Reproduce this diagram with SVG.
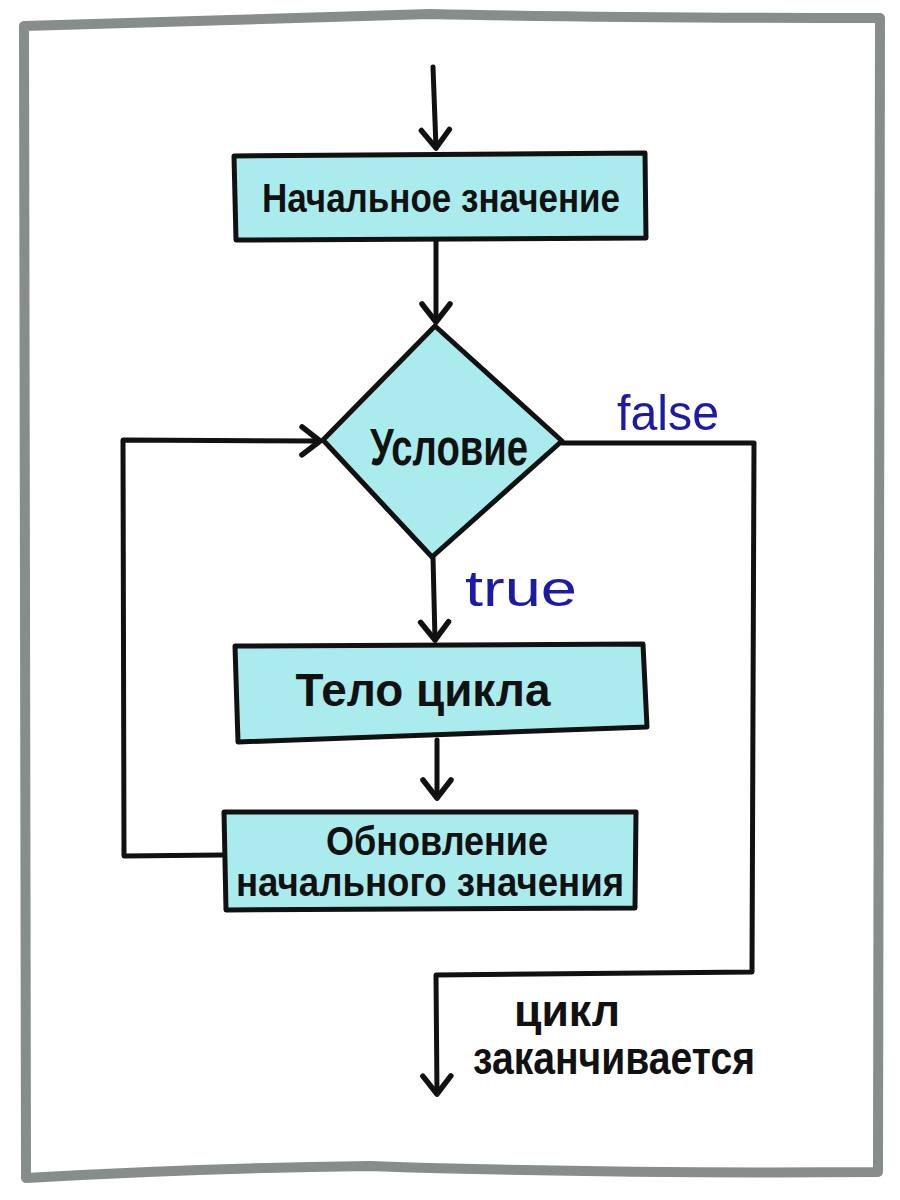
<svg xmlns="http://www.w3.org/2000/svg" width="900" height="1200" viewBox="0 0 900 1200">
<defs>
<marker id="arr" markerWidth="12" markerHeight="14" refX="10" refY="7" orient="auto" markerUnits="userSpaceOnUse" viewBox="0 0 12 14" overflow="visible">
<path d="M-8,-7 L10,7 L-8,21" fill="none" stroke="#111" stroke-width="5.5" stroke-linecap="round" stroke-linejoin="round"/>
</marker>
<style>
.box{fill:#aaecee;stroke:#111;stroke-width:5;stroke-linejoin:round}
.ln{fill:none;stroke:#111;stroke-width:5;stroke-linecap:round;stroke-linejoin:round}
.t{font-family:"Liberation Sans Narrow","Liberation Sans",sans-serif;font-weight:bold;fill:#111;text-anchor:middle}
.b{font-family:"Liberation Sans","DejaVu Sans",sans-serif;fill:#1b1ba6;text-anchor:middle}
</style>
</defs>
<rect width="900" height="1200" fill="#fff"/>
<path d="M24,26 Q200,20 430,14 Q600,18 880,18 L878,1172 Q600,1174 370,1166 Q200,1168 26,1178 Z" fill="none" stroke="#868d8a" stroke-width="10" stroke-linejoin="round"/>
<g id="connectors">
<path class="ln" d="M433,67 L436,148" marker-end="url(#arr)"/>
<path class="ln" d="M436,240 L436,322" marker-end="url(#arr)"/>
<path class="ln" d="M433,557 L435,640" marker-end="url(#arr)"/>
<path class="ln" d="M437,740 L437,798" marker-end="url(#arr)"/>
<path class="ln" d="M222,855 L124,856 L123,440 L320,441" marker-end="url(#arr)"/>
<path class="ln" d="M562,443 L754,443 L752,972 L436,975 L437,1094" marker-end="url(#arr)"/>
</g>
<g id="start">
<path class="box" d="M234,156 L645,153 L646,238 L236,240 Z"/>
<text class="t" x="441" y="212" font-size="41" textLength="358" lengthAdjust="spacingAndGlyphs">Начальное значение</text>
</g>
<g id="condition">
<path class="box" d="M435,326 L562,441 L432,557 L323,440 Z"/>
<text class="t" x="449" y="465" font-size="52" textLength="158" lengthAdjust="spacingAndGlyphs">Условие</text>
</g>
<g id="body">
<path class="box" d="M235,646 L643,644 L647,727 L238,742 Z"/>
<text class="t" x="423" y="706" font-size="46" textLength="255" lengthAdjust="spacingAndGlyphs">Тело цикла</text>
</g>
<g id="update">
<path class="box" d="M224,812 L636,812 L635,908 L226,910 Z"/>
<text class="t" x="437" y="855" font-size="40" textLength="222" lengthAdjust="spacingAndGlyphs">Обновление</text>
<text class="t" x="430" y="896" font-size="40" textLength="388" lengthAdjust="spacingAndGlyphs">начального значения</text>
</g>
<g id="labels">
<text class="b" x="668" y="430" font-size="50" textLength="102" lengthAdjust="spacingAndGlyphs">false</text>
<text class="b" x="521" y="606" font-size="50" textLength="112" lengthAdjust="spacingAndGlyphs">true</text>
<text class="t" x="567" y="1026" font-size="44" textLength="106" lengthAdjust="spacingAndGlyphs">цикл</text>
<text class="t" x="614" y="1074" font-size="46" textLength="282" lengthAdjust="spacingAndGlyphs">заканчивается</text>
</g>
</svg>
